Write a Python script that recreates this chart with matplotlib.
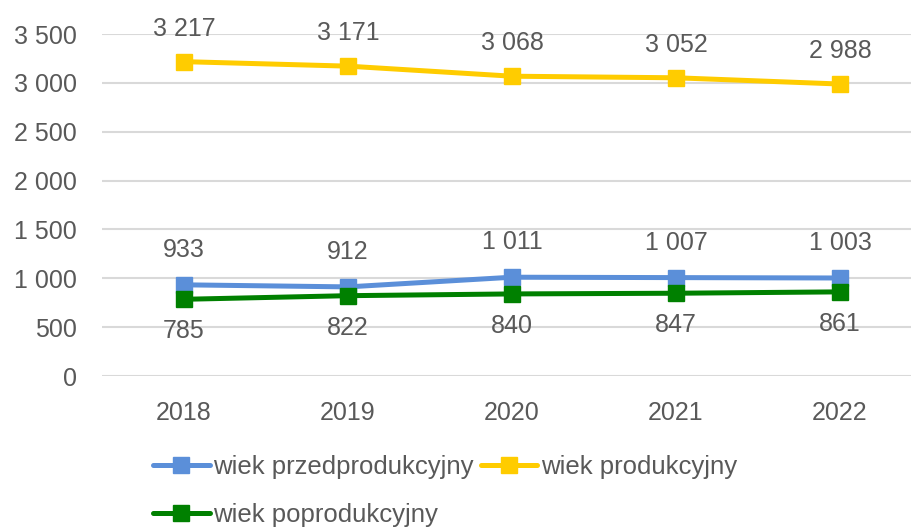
import matplotlib.pyplot as plt
from matplotlib.ticker import FuncFormatter

years = ["2018", "2019", "2020", "2021", "2022"]
przed = [933, 912, 1011, 1007, 1003]
prod = [3217, 3171, 3068, 3052, 2988]
popro = [785, 822, 840, 847, 861]

names = ["wiek przedprodukcyjny", "wiek produkcyjny", "wiek poprodukcyjny"]
colors = ["#5B8FD9", "#FFCC00", "#008000"]

plt.rcParams['font.family'] = ['Liberation Sans', 'DejaVu Sans']
txt = "#595959"
fs = 18

fig = plt.figure(figsize=(9.12, 5.28), dpi=100)
ax = fig.add_axes([102/912, 1-376/528, 820/912, (376-34)/528])
x = list(range(len(years)))

def fmt(v):
    return f"{v:,}".replace(",", " ")

lines = []
for vals, c, n, off in [(przed, colors[0], names[0], 35), (prod, colors[1], names[1], 33), (popro, colors[2], names[2], -32)]:
    l, = ax.plot(x, vals, color=c, lw=3.6, marker='s', ms=11, label=n, solid_capstyle='round')
    lines.append(l)
    for xi, v in zip(x, vals):
        ax.annotate(fmt(v), (xi, v), xytext=(0, off*0.72), textcoords='offset points',
                    ha='center', va='center', fontsize=fs, color=txt)

ax.set_xlim(-0.5, 4.5)
ax.set_ylim(0, 3500)
ax.set_yticks(range(0, 3501, 500))
ax.yaxis.set_major_formatter(FuncFormatter(lambda v, p: fmt(int(v))))
ax.set_xticks(x)
ax.set_xticklabels(years)
ax.tick_params(axis='both', length=0, labelsize=fs, labelcolor=txt)
ax.tick_params(axis='y', pad=18)
ax.tick_params(axis='x', pad=18)
ax.grid(axis='y', color='#D9D9D9', lw=1.5)
ax.set_axisbelow(True)
for s in ax.spines.values():
    s.set_visible(False)

leg = fig.legend([lines[0], lines[2], lines[1]], [names[0], names[2], names[1]],
                 ncol=2, loc='upper left', bbox_to_anchor=(153/912, 1-455/528),
                 frameon=False, fontsize=18.5, labelcolor=txt, handlelength=2.2,
                 handletextpad=0.15, columnspacing=0.27, labelspacing=0.95, borderaxespad=0,
                 borderpad=0)

fig.savefig("out.png", dpi=100)
